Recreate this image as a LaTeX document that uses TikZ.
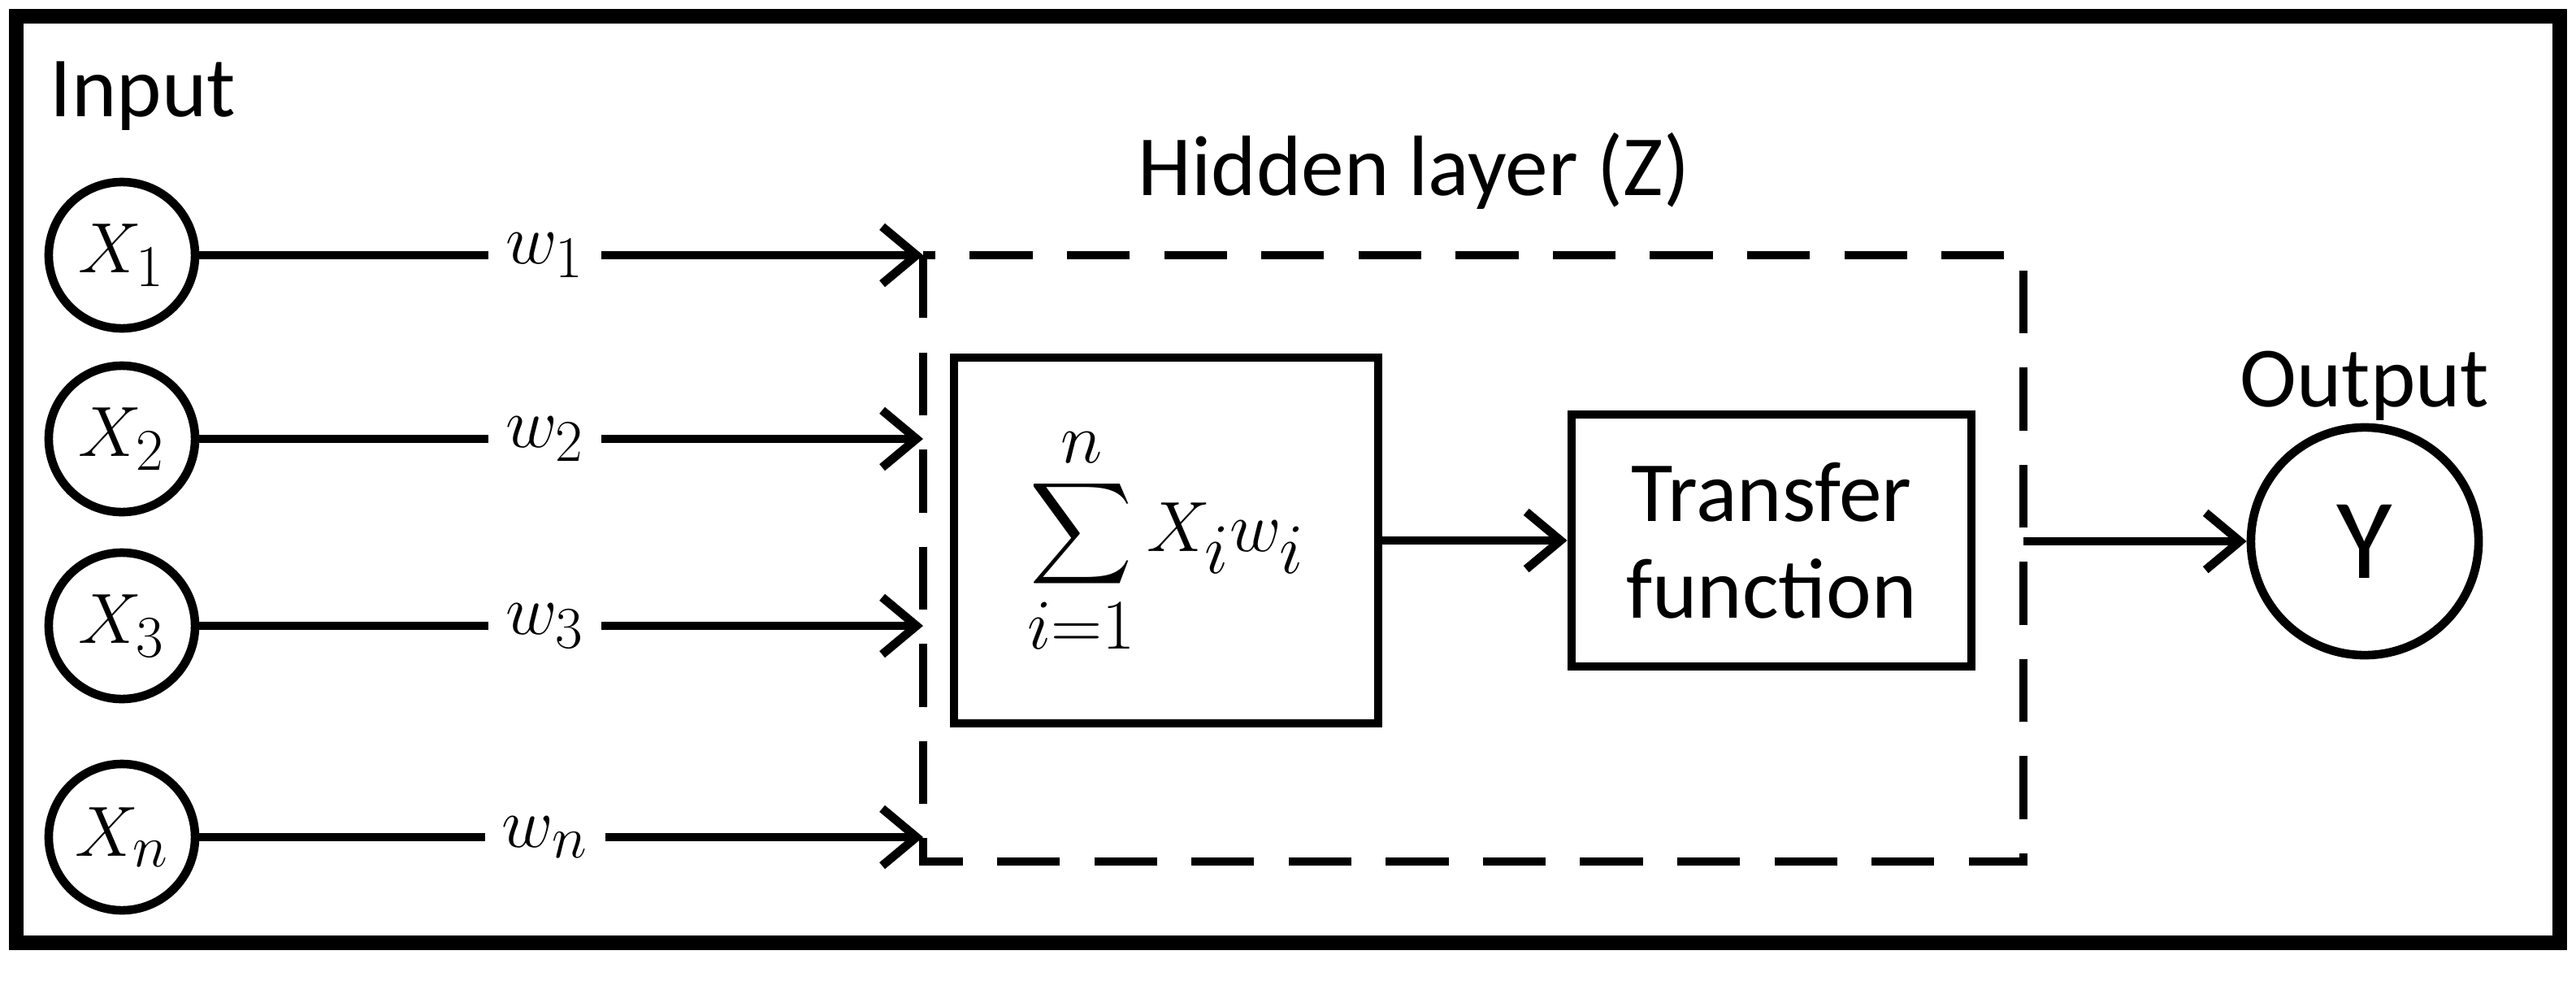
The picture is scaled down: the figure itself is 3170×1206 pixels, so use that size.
\documentclass[tikz,border=0pt]{standalone}
\usepackage{amsmath}
\usepackage{fontspec}
\setmainfont{Carlito}
\usetikzlibrary{arrows.meta}
\begin{document}
\begin{tikzpicture}[x=0.01cm,y=-0.01cm,
  every node/.style={font=\fontsize{30}{34}\selectfont},
  inp/.style={circle,draw,line width=3pt,minimum size=1.8cm,inner sep=0pt},
  arr/.style={line width=3pt,-{Straight Barb[length=12pt,width=20pt,line width=3pt]}},
  wl/.style={fill=white,inner sep=6pt,font=\fontsize{32}{34}\selectfont},
  box/.style={draw,line width=3pt,inner sep=0pt}]
\useasboundingbox (0,0) rectangle (3170,1206);
\fill[white] (0,0) rectangle (3170,1206);
\draw[line width=5pt] (20,20) rectangle (3150,1160);
\node (lin) at (176,118) {Input};
\node[inp] (c1) at (150,314) {$X_1$};
\node[inp] (c2) at (150,540) {$X_2$};
\node[inp] (c3) at (150,770) {$X_3$};
\node[inp] (cn) at (150,1030) {$X_n$};
\coordinate (t1) at (1136,314);
\coordinate (t2) at (1136,540);
\coordinate (t3) at (1136,770);
\coordinate (tn) at (1136,1030);
\foreach \n/\w in {1/w_1,2/w_2,3/w_3,n/w_n}{
  \draw[arr] (c\n) -- (t\n) node[wl,pos=0.5,xshift=-0.2cm] {$\w$};
}
\draw[line width=3pt,dash pattern=on 22pt off 12pt] (1136,314) rectangle (2490,1060);
\node (lh) at (1740,210) {Hidden layer (Z)};
\node[box,minimum width=5.22cm,minimum height=4.5cm] (sum) at (1435,665)
  {\fontsize{36}{40}\selectfont$\displaystyle\sum_{i=1}^{n} X_i w_i$};
\node[box,minimum width=4.92cm,minimum height=3.1cm,align=center] (tf) at (2180,665)
  {Transfer\\function};
\draw[arr] (sum) -- (tf);
\node[inp,minimum size=2.8cm,font=\fontsize{40}{44}\selectfont] (y) at (2910,666) {Y};
\node (lo) at (2910,475) {Output};
\coordinate (dr) at (2490,666);
\draw[arr] (dr) -- (y);
\end{tikzpicture}
\end{document}
